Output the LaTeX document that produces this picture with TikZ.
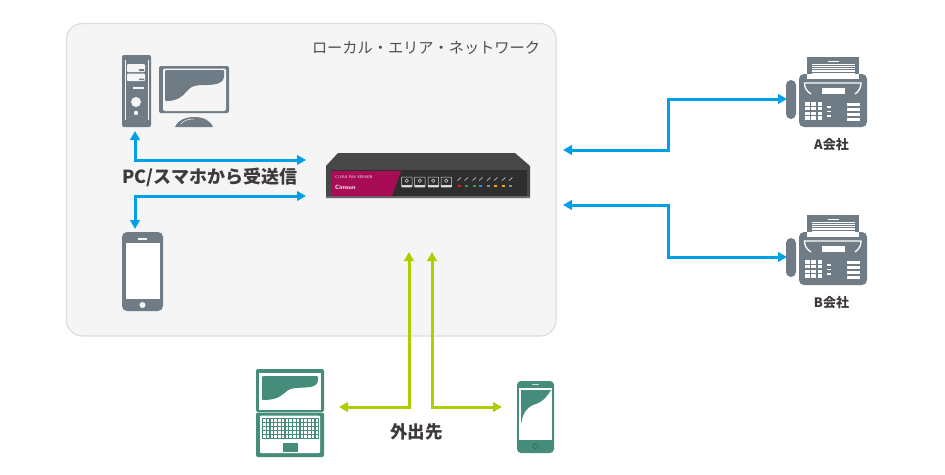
\documentclass[tikz,border=0pt]{standalone}
\usepackage{fontspec}
\usetikzlibrary{arrows.meta}
\newfontfamily\jpfont{Noto Sans CJK JP}
\definecolor{panelgray}{HTML}{F5F5F5}
\definecolor{panelline}{HTML}{DDDDDD}
\definecolor{icongray}{HTML}{6F7C85}
\definecolor{icongreen}{HTML}{458C7A}
\definecolor{linkblue}{HTML}{00A0E9}
\definecolor{linklime}{HTML}{ADCE00}
\definecolor{labelgray}{HTML}{3E3A39}
\definecolor{ledred}{HTML}{D8232A}
\definecolor{ledgreen}{HTML}{22AC38}
\definecolor{ledblue}{HTML}{1D9BD8}
\definecolor{ledorange}{HTML}{F5A31A}
\definecolor{ledgray}{HTML}{8A8A8A}
\tikzset{
  bluelink/.style={draw=linkblue,line width=3pt,{Triangle[length=9pt,width=9.5pt]}-{Triangle[length=9pt,width=9.5pt]}},
  limelink/.style={draw=linklime,line width=3pt,{Triangle[length=9pt,width=9.5pt]}-{Triangle[length=9pt,width=9.5pt]}},
  biglabel/.style={font=\jpfont\bfseries\fontsize{18}{18}\selectfont,text=labelgray,inner sep=0pt},
  faxlabel/.style={font=\jpfont\bfseries\fontsize{13}{13}\selectfont,text=labelgray,inner sep=0pt},
  pics/faxbox/.style={code={
    \fill[icongray] (27,12) rectangle (79,29);
    \fill[white] (48,15.5) rectangle (59,16.5);
    \foreach \y in {18.5,20.8,23.1,25.4,27.7}{
      \fill[white] (31.5,\y) rectangle (75,\y+1.2);
    }
    \fill[icongray,rounded corners=5pt] (19,29) rectangle (87,82);
    \fill[white] (27,29) rectangle (79,34);
    \fill[icongray,rounded corners=5pt] (6,35) rectangle (16,74);
    \draw[white,line width=1.3pt] (31,49) .. controls (26,46) and (24.5,42) .. (24.5,38) -- (81,38) .. controls (81,42) and (79.5,46) .. (75,49);
    \fill[white] (42,43) rectangle (65,49);
    \foreach \y in {57,61.8,66.6,71.4}{
      \foreach \x in {25,31.3,37.6}{
        \fill[white] (\x,\y) rectangle (\x+4.6,\y+3.6);
      }
    }
    \foreach \y in {61,65.5,70}{
      \fill[white] (47,\y) rectangle (51,\y+1.6);
    }
    \foreach \y in {58,63,68,72.5}{
      \fill[white] (67,\y) rectangle (80,\y+3.2);
    }
  }}
}
\begin{document}
\begin{tikzpicture}[x=1pt,y=-1pt]
  \useasboundingbox (0,0) rectangle (945,474);
  \fill[white] (0,0) rectangle (945,474);
  % local area panel
  \draw[panelline,fill=panelgray,line width=1.2pt,rounded corners=16pt] (66.5,23.5) rectangle (556,336);
  \node[font=\jpfont\fontsize{15.2}{15.2}\selectfont,text=labelgray!90,inner sep=0pt] (lan) at (426,48) {ローカル・エリア・ネットワーク};

  % tower
  \fill[icongray,rounded corners=2pt] (122,55) rectangle (151,127);
  \draw[panelgray,line width=0.5pt] (125,60) -- (125,120) (148,60) -- (148,120);
  \fill[panelgray,rounded corners=1pt] (127,64) rectangle (145,72);
  \fill[panelgray,rounded corners=1pt] (127,73.5) rectangle (145,81);
  \fill[icongray] (139,69) rectangle (144,71) (139,78.5) rectangle (144,80);
  \fill[panelgray] (133,87) rectangle (144,89);
  \fill[panelgray] (136,102) circle(5);
  \fill[panelgray] (136,113) circle(2.2);
  % monitor
  \fill[icongray,rounded corners=2pt] (159,66) rectangle (229,113);
  \fill[panelgray,rounded corners=2pt] (163,68.5) rectangle (226,111);
  \fill[icongray,rounded corners=1pt] (165,70) -- (224,70) -- (224,76) .. controls (224,82) and (218,85) .. (205,85) .. controls (192,85) and (190,88) .. (187,91) .. controls (182,97) and (177,101) .. (165,101) -- cycle;
  \fill[icongray] (175,127) .. controls (178,120) and (186,117) .. (194,117) .. controls (203,117) and (210,120) .. (213,127) -- cycle;
  \draw[panelgray,line width=0.5pt] (181,124) .. controls (184,120) and (189,119) .. (194,119);
  % phone in the panel
  \fill[icongray,rounded corners=5pt] (122,232) rectangle (163,311);
  \fill[white] (126,243) rectangle (160,299);
  \fill[panelgray] (138,237.5) rectangle (147,239.5);
  \fill[panelgray] (142.5,305) circle(3);

  % server
  \fill[black!72] (338,153) -- (515,153) -- (530,166) -- (530,198) -- (326,198) -- (326,166) -- cycle;
  \fill[black!82] (331,170) rectangle (527,196);
  \fill[black!60] (326,196) rectangle (530,198);
  \fill[fill={rgb,255:red,168;green,12;blue,84}] (331,171) -- (401,171) -- (392,196) -- (331,196) -- cycle;
  \node[font=\fontsize{3.8}{4}\sffamily\selectfont,text=white,inner sep=0pt,anchor=west] (faxname) at (335,177.5) {Ci-FAX FAX SERVER};
  \node[font=\fontsize{6}{6}\bfseries\sffamily\selectfont,text=white,inner sep=0pt,anchor=west] (brand) at (335,187.5) {Cimsun};
  \foreach \x in {401.5,414.5,428,441}{
    \draw[white!85!black,line width=0.5pt,rounded corners=0.5pt] (\x,177) rectangle (\x+10.5,187);
    \fill[white!85!black] (\x,184.8) rectangle (\x+10.5,187);
    \draw[white!80!black,line width=0.6pt] (\x+5.2,180.8) circle(1.7);
  }
  \foreach \x/\col in {459/ledred,466/ledgreen,474/ledgreen,480.5/ledblue,488.5/ledgray,495.5/ledorange,503.5/ledorange,510.5/ledgray}{
    \draw[white!75!black,line width=0.7pt] (\x-1.5,180.5) -- (\x+2,177.5);
    \fill[\col] (\x-1.5,184.5) rectangle (\x+1.5,186.8);
  }

  % fax machines
  \pic (faxA) at (780,45) {faxbox};
  \pic (faxB) at (780,203) {faxbox};
  \node[faxlabel] (nameA) at (831.5,144.5) {A会社};
  \node[faxlabel] (nameB) at (831.5,302.5) {B会社};

  % laptop
  \fill[icongreen,rounded corners=2pt] (256,369) rectangle (324,412);
  \fill[white] (259,373) rectangle (321,410);
  \fill[icongreen,rounded corners=1pt] (262,376) -- (318,376) -- (318,379) .. controls (318,385) and (314,387) .. (305,387.5) .. controls (296,388) and (291,388) .. (287,391) .. controls (281,396) and (277,400) .. (262,400) -- cycle;
  \fill[icongreen,rounded corners=2pt] (256,412.5) rectangle (324,457);
  \fill[white,rounded corners=1pt] (260,415.5) rectangle (320,453);
  \fill[icongreen] (262,418) rectangle (319,439);
  \foreach \i in {0,...,14}{
    \foreach \j in {0,...,4}{
      \fill[white] (263+3.75*\i,419+4*\j) rectangle (265.6+3.75*\i,421.9+4*\j);
    }
  }
  \fill[icongreen] (283,443) rectangle (298,452);
  % outside phone
  \fill[icongreen,rounded corners=4pt] (517,381) rectangle (554,453);
  \fill[white] (519,388) rectangle (552,440);
  \fill[icongreen] (521,390) -- (551,390) .. controls (545,400) and (540,403) .. (533,405) .. controls (526,408) and (522,415) .. (521,425) -- cycle;
  \fill[white!70!icongreen] (532,383.5) rectangle (539,385);
  \draw[icongreen!70!black,line width=0.5pt] (535.5,446) circle(2.6);

  % links
  \coordinate (pcport) at (135,131);
  \coordinate (phoneport) at (135,229);
  \coordinate (srvtop) at (306,160);
  \coordinate (srvlow) at (306,196);
  \coordinate (srvA) at (563,150);
  \coordinate (srvB) at (563,205);
  \coordinate (bendA) at (668,99);
  \coordinate (bendB) at (668,257);
  \coordinate (faxportA) at (787,99);
  \coordinate (faxportB) at (787,257);
  \coordinate (srvL) at (409,252);
  \coordinate (srvR) at (432,252);
  \coordinate (laptopport) at (339,407);
  \coordinate (mobileport) at (502,407);
  \draw[bluelink] (pcport) |- (srvtop);
  \draw[bluelink] (phoneport) |- (srvlow);
  \draw[bluelink] (srvA) -| (bendA) -- (faxportA);
  \draw[bluelink] (srvB) -| (bendB) -- (faxportB);
  \draw[limelink] (srvL) |- (laptopport);
  \draw[limelink] (srvR) |- (mobileport);

  % labels
  \node[biglabel] (pclabel) at (210,177) {PC/スマホから受送信};
  \node[biglabel,font=\jpfont\bfseries\fontsize{17.5}{18}\selectfont] (outlabel) at (416.5,432) {外出先};
\end{tikzpicture}
\end{document}
